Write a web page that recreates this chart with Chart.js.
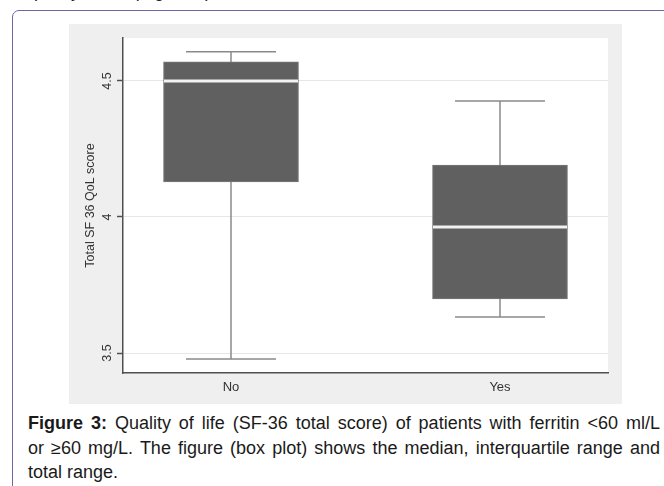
<!DOCTYPE html>
<html>
<head>
<meta charset="utf-8">
<script src="https://cdn.jsdelivr.net/npm/chart.js@4/dist/chart.umd.min.js"></script>
<style>
  body { margin: 0; width: 664px; height: 486px; overflow: hidden; background: #fff; position: relative; font-family: Arial, "Liberation Sans", sans-serif; }
  .prev { position: absolute; left: 28px; top: -18px; font-size: 18px; line-height: 18px; color: #222; white-space: nowrap; }
  .frame { position: absolute; left: 12px; top: 10px; width: 700px; height: 600px; border: 1.5px solid #6d66a7; border-radius: 7px; }
  #box { position: absolute; left: 69px; top: 24px; background: #efefef; }
  .caption { position: absolute; left: 28px; top: 411px; width: 632px; font-size: 18px; line-height: 24.5px; color: #1a1a1a; }
  .caption div { text-align: justify; text-align-last: justify; white-space: nowrap; }
  .caption div.last { text-align-last: left; }
</style>
</head>
<body>
<div class="prev">quality of life (Figure 3).</div>
<div class="frame"></div>
<canvas id="box" width="553" height="380"></canvas>
<div class="caption">
  <div><b>Figure 3:</b> Quality of life (SF-36 total score) of patients with ferritin &lt;60 ml/L</div>
  <div>or &ge;60 mg/L. The figure (box plot) shows the median, interquartile range and</div>
  <div class="last">total range.</div>
</div>
<script>
// ferritin >= 60 group
var categories = ['No', 'Yes'];
var minVals = [3.478, 3.632];
var q1Vals = [4.129, 3.699];
var medVals = [4.5, 3.963];
var q3Vals = [4.570, 4.191];
var maxVals = [4.607, 4.426];
var yTicks = [3.5, 4, 4.5];

var whiskers = [];
var caps = [];
var medians = [];
var boxes = [];
for (var i in categories) {
  var x = Number(i) + 1;
  whiskers.push({x: x, y: minVals[i]}, {x: x, y: maxVals[i]}, {x: x + 0.5, y: null});
  caps.push({x: x, y: minVals[i]}, {x: x, y: maxVals[i]});
  medians.push({x: x, y: medVals[i]});
  boxes.push({x: x, y: [q1Vals[i], q3Vals[i]]});
}

var plotBg = {
  id: 'plotBg',
  beforeDraw: function(chart) {
    var a = chart.chartArea, ctx = chart.ctx;
    ctx.save();
    ctx.fillStyle = '#ffffff';
    ctx.fillRect(a.left, a.top, a.right - a.left, a.bottom - a.top);
    ctx.restore();
  },
  afterDraw: function(chart) {
    // rotated y tick labels
    var ctx = chart.ctx, y = chart.scales.y;
    ctx.save();
    ctx.fillStyle = '#333';
    ctx.font = '12.5px Arial, "Liberation Sans"';
    ctx.textAlign = 'center';
    ctx.textBaseline = 'middle';
    yTicks.forEach(function(v) {
      ctx.save();
      ctx.translate(39, y.getPixelForValue(v));
      ctx.rotate(-Math.PI / 2);
      ctx.fillText(String(v), 0, 0);
      ctx.restore();
    });
    ctx.restore();
  }
};

var ctx = document.getElementById('box');
var myChart = new Chart(ctx, {
  data: {
    datasets: [
      {
        type: 'line',
        data: whiskers,
        borderColor: '#8a8a8a',
        borderWidth: 1.5,
        pointRadius: 0,
        spanGaps: false,
        order: 3
      },
      {
        type: 'bar',
        data: boxes,
        backgroundColor: '#606060',
        borderColor: '#787878',
        borderWidth: 1,
        borderSkipped: false,
        barThickness: 135,
        grouped: false,
        order: 2
      },
      {
        type: 'line',
        data: caps,
        showLine: false,
        pointStyle: 'line',
        pointRadius: 45,
        pointBorderColor: '#8a8a8a',
        pointBorderWidth: 1.5,
        order: 1
      },
      {
        type: 'line',
        data: medians,
        showLine: false,
        pointStyle: 'line',
        pointRadius: 67,
        pointBorderColor: '#f2f2f2',
        pointBorderWidth: 3,
        order: 0
      }
    ]
  },
  options: {
    responsive: false,
    animation: false,
    devicePixelRatio: 1,
    layout: { autoPadding: false, padding: { left: 0, right: 14, top: 14, bottom: 0 } },
    plugins: { legend: { display: false }, tooltip: { enabled: false } },
    scales: {
      x: {
        type: 'linear',
        offset: false,
        min: 0.5985,
        max: 2.4015,
        afterBuildTicks: function(scale) {
          scale.ticks = categories.map(function(c, i) { return {value: i + 1}; });
        },
        afterFit: function(scale) { scale.height = 31; },
        grid: { display: false, drawTicks: false, offset: false },
        border: { display: true, color: '#505050', width: 1.5 },
        ticks: {
          padding: 7,
          color: '#333',
          font: { family: 'Arial, "Liberation Sans"', size: 13 },
          callback: function(v) { return categories[v - 1]; }
        }
      },
      y: {
        type: 'linear',
        min: 3.4265,
        max: 4.658,
        afterBuildTicks: function(scale) {
          scale.ticks = yTicks.map(function(v) { return {value: v}; });
        },
        afterFit: function(scale) { scale.width = 54; },
        grid: { color: '#e6e6e6', lineWidth: 1, tickLength: 6, tickColor: '#505050', tickWidth: 1.5 },
        border: { display: true, color: '#505050', width: 1.5 },
        ticks: { display: false },
        title: {
          display: true,
          text: 'Total SF 36 QoL score',
          color: '#333',
          font: { family: 'Arial, "Liberation Sans"', size: 12.5 },
          padding: { top: 14, bottom: 0 }
        }
      }
    }
  },
  plugins: [plotBg]
});
</script>
</body>
</html>
